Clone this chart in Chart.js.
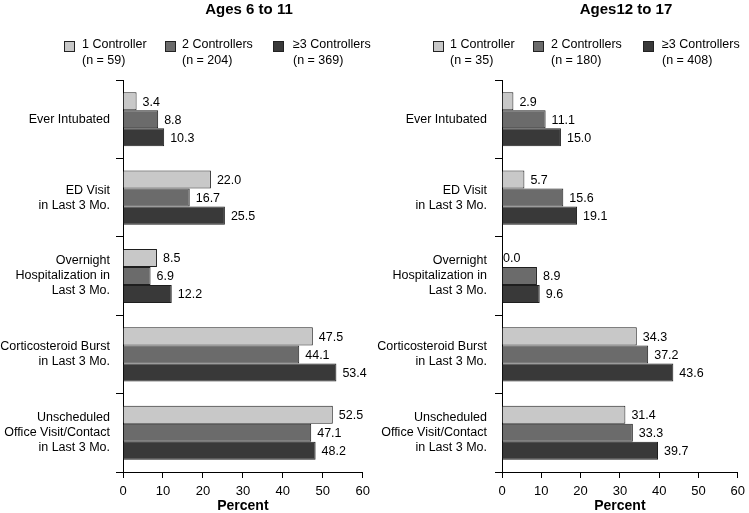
<!DOCTYPE html>
<html lang="en">
<head>
    <meta charset="UTF-8">
    <title>Controller Use by Age</title>
    <script src="https://cdn.jsdelivr.net/npm/chart.js"></script>
    <style>
        body { margin: 0; background: #fff; }
        .panel { position: absolute; top: 0; height: 513px; }
        #leftBox { left: 0; width: 374px; }
        #rightBox { left: 374px; width: 375px; }
    </style>
</head>
<body>
    <div class="panel" id="leftBox"><canvas id="leftChart"></canvas></div>
    <div class="panel" id="rightBox"><canvas id="rightChart"></canvas></div>

    <script>
        // categories (multi-line labels)
        const categories = [
            ['Ever Intubated'],
            ['ED Visit', 'in Last 3 Mo.'],
            ['Overnight', 'Hospitalization in', 'Last 3 Mo.'],
            ['Corticosteroid Burst', 'in Last 3 Mo.'],
            ['Unscheduled', 'Office Visit/Contact', 'in Last 3 Mo.']
        ];
        const seriesNames = ['1 Controller', '2 Controllers', '\u22653 Controllers'];
        const xTicks = [0, 10, 20, 30, 40, 50, 60];

        // Ages 6 to 11
        const youngN = [59, 204, 369];
        const young1 = [3.4, 22.0, 8.5, 47.5, 52.5];
        const young2 = [8.8, 16.7, 6.9, 44.1, 47.1];
        const young3 = [10.3, 25.5, 12.2, 53.4, 48.2];

        // Ages 12 to 17
        const olderN = [35, 180, 408];
        const older1 = [2.9, 5.7, 0.0, 34.3, 31.4];
        const older2 = [11.1, 15.6, 8.9, 37.2, 33.3];
        const older3 = [15.0, 19.1, 9.6, 43.6, 39.7];

        const barColors = ['#c8c8c8', '#6b6b6b', '#393939'];
        const fontFamily = '"Liberation Sans", Arial, Helvetica, sans-serif';

        // title, legend and value labels
        const decorPlugin = {
            id: 'decor',
            afterDraw(chart, args, opts) {
                const ctx = chart.ctx;
                ctx.save();
                ctx.fillStyle = '#000';
                ctx.font = 'bold 15px ' + fontFamily;
                ctx.textAlign = 'center';
                ctx.textBaseline = 'middle';
                ctx.fillText(opts.title, opts.titleX, 10);

                ctx.font = '12.5px ' + fontFamily;
                ctx.textAlign = 'left';
                opts.legendX.forEach((x, i) => {
                    ctx.fillStyle = barColors[i];
                    ctx.fillRect(x + 0.5, 41.5, 10, 10);
                    ctx.strokeStyle = '#222';
                    ctx.lineWidth = 1;
                    ctx.strokeRect(x + 0.5, 41.5, 10, 10);
                    ctx.fillStyle = '#000';
                    ctx.fillText(seriesNames[i], x + opts.textGap[i], 45);
                    ctx.fillText('(n = ' + opts.n[i] + ')', x + opts.textGap[i], 61);
                });

                ctx.font = '12.5px ' + fontFamily;
                ctx.textBaseline = 'middle';
                chart.data.datasets.forEach((ds, di) => {
                    const meta = chart.getDatasetMeta(di);
                    meta.data.forEach((bar, i) => {
                        const v = ds.data[i];
                        const off = v === 0 ? 1 : 6;
                        ctx.fillText(v.toFixed(1), bar.x + off, bar.y + 1);
                    });
                });
                ctx.restore();
            }
        };

        function makeChart(id, s1, s2, s3, n, opts) {
            const ctx = document.getElementById(id).getContext('2d');
            return new Chart(ctx, {
                type: 'bar',
                data: {
                    labels: categories,
                    datasets: [s1, s2, s3].map((d, i) => ({
                        label: seriesNames[i],
                        data: d,
                        backgroundColor: barColors[i],
                        borderColor: '#1e1e1e',
                        borderWidth: 1,
                        barPercentage: 1.0,
                        categoryPercentage: 0.69
                    }))
                },
                options: {
                    indexAxis: 'y',
                    responsive: true,
                    maintainAspectRatio: false,
                    animation: false,
                    layout: { padding: { top: 80, right: opts.padRight, left: 0, bottom: 0 } },
                    plugins: {
                        legend: { display: false },
                        title: { display: false },
                        tooltip: { enabled: false },
                        decor: { title: opts.title, titleX: opts.titleX, legendX: opts.legendX, textGap: opts.textGap, n: n }
                    },
                    scales: {
                        x: {
                            min: 0,
                            max: 60,
                            afterBuildTicks: scale => { scale.ticks = xTicks.map(v => ({ value: v })); },
                            afterFit: scale => { scale.height = 41; },
                            grid: { drawOnChartArea: false, drawTicks: true, tickLength: 6, color: '#000' },
                            border: { display: true, color: '#000' },
                            ticks: { color: '#000', padding: 4, font: { family: fontFamily, size: 13, lineHeight: 1.5 } },
                            title: {
                                display: true,
                                text: 'Percent',
                                color: '#000',
                                padding: { top: 0, bottom: 0 },
                                font: { family: fontFamily, size: 14, weight: 'bold', lineHeight: 1.0 }
                            }
                        },
                        y: {
                            afterFit: scale => { scale.width = opts.yWidth; },
                            grid: { offset: true, drawOnChartArea: false, drawTicks: true, tickLength: 7, color: '#000' },
                            border: { display: true, color: '#000' },
                            ticks: { color: '#000', padding: opts.labelPad, font: { family: fontFamily, size: 12.5, lineHeight: 1.2 } }
                        }
                    }
                },
                plugins: [decorPlugin]
            });
        }

        makeChart('leftChart', young1, young2, young3, youngN, {
            title: 'Ages 6 to 11', titleX: 249, padRight: 9, yWidth: 123, labelPad: 6,
            legendX: [64, 165, 273], textGap: [18, 17, 20]
        });
        makeChart('rightChart', older1, older2, older3, olderN, {
            title: 'Ages12 to 17', titleX: 252, padRight: 7, yWidth: 128, labelPad: 8,
            legendX: [59, 159, 269], textGap: [17, 18, 19]
        });
    </script>
</body>
</html>
